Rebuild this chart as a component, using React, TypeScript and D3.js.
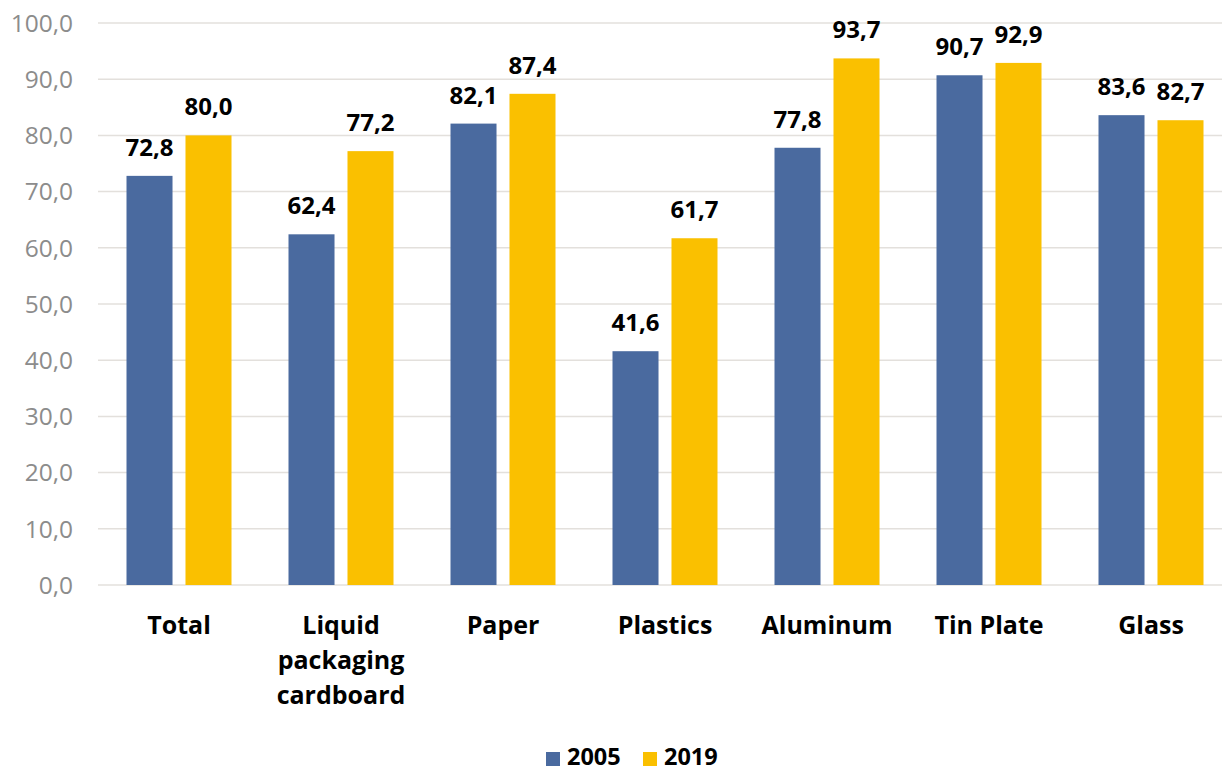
import * as d3 from "d3";

const categories = [
  ["Total"],
  ["Liquid", "packaging", "cardboard"],
  ["Paper"],
  ["Plastics"],
  ["Aluminum"],
  ["Tin Plate"],
  ["Glass"],
];
const series = ["2005", "2019"];
const values2005 = [72.8, 62.4, 82.1, 41.6, 77.8, 90.7, 83.6];
const values2019 = [80.0, 77.2, 87.4, 61.7, 93.7, 92.9, 82.7];
const yTicks = [0, 10, 20, 30, 40, 50, 60, 70, 80, 90, 100];

const colors = ["#4a6a9f", "#fac000"];
const font = "'Open Sans', sans-serif";

const fmt = (v: number) => v.toFixed(1).replace(".", ",");

const App = () => {
  const width = 1222;
  const height = 771;
  const left = 98;
  const bandW = 162;
  const top = 23;
  const bottom = 585;

  const x = d3
    .scaleBand<number>()
    .domain(d3.range(categories.length))
    .range([left, left + bandW * categories.length])
    .paddingInner(0)
    .paddingOuter(0);
  const x1 = d3
    .scaleBand<string>()
    .domain(series)
    .range([28.5, bandW - 28.5])
    .paddingInner(0.22);
  const y = d3.scaleLinear().domain([0, 100]).range([bottom, top]);

  const rows = [values2005, values2019];

  return (
    <svg
      width={width}
      height={height}
      style={{ position: "absolute", left: 0, top: 0, background: "#fff" }}
    >
      {yTicks.map((t) => (
        <g key={t}>
          <line
            x1={left}
            x2={width}
            y1={y(t)}
            y2={y(t)}
            stroke="#e3e0dc"
            strokeWidth={1.5}
          />
          <text
            x={73}
            y={y(t)}
            dy="0.36em"
            textAnchor="end"
            fontFamily={font}
            fontSize={24.5}
            fill="#8c8c8c"
          >
            {fmt(t)}
          </text>
        </g>
      ))}

      {categories.map((cat, i) => (
        <g key={i} transform={`translate(${x(i)},0)`}>
          {series.map((s, j) => {
            const v = rows[j][i];
            const bx = x1(s)!;
            return (
              <g key={s}>
                <rect
                  x={bx}
                  y={y(v)}
                  width={x1.bandwidth()}
                  height={y(0) - y(v)}
                  fill={colors[j]}
                />
                <text
                  x={bx + x1.bandwidth() / 2}
                  y={y(v) - 20}
                  textAnchor="middle"
                  fontFamily={font}
                  fontWeight="bold"
                  fontSize={24}
                  fill="#000"
                >
                  {fmt(v)}
                </text>
              </g>
            );
          })}
          {cat.map((line, k) => (
            <text
              key={k}
              x={bandW / 2}
              y={634 + k * 35}
              textAnchor="middle"
              fontFamily={font}
              fontWeight="bold"
              fontSize={25}
              fill="#000"
            >
              {line}
            </text>
          ))}
        </g>
      ))}

      {series.map((s, j) => {
        const lx = 546 + j * 97;
        return (
          <g key={s}>
            <rect x={lx} y={752} width={14} height={14} fill={colors[j]} />
            <text
              x={lx + 21}
              y={765}
              fontFamily={font}
              fontWeight="bold"
              fontSize={23.5}
              fill="#000"
            >
              {s}
            </text>
          </g>
        );
      })}
    </svg>
  );
};

export default App;
